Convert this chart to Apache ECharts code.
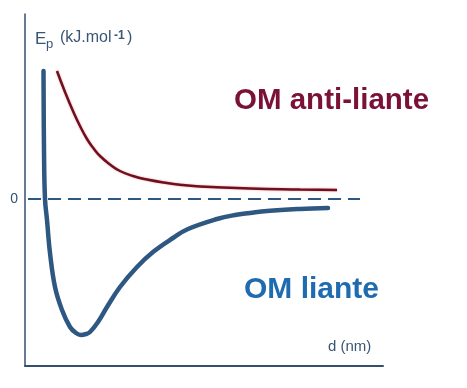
<!DOCTYPE html>
<html>
<head>
<meta charset="utf-8">
<script src="https://cdn.jsdelivr.net/npm/echarts@6/dist/echarts.min.js"></script>
<style>
html,body{margin:0;padding:0;background:#fff;}
#c{width:467px;height:388px;}
</style>
</head>
<body>
<div id="c"></div>
<script>
// d (arbitrary nm units), Ep (arbitrary kJ/mol units)
const liante_d  = [0.185,0.19,0.20,0.22,0.25,0.30,0.37,0.45,0.51,0.56,0.61,0.65,0.73,0.82,0.95,1.12,1.28,1.48,1.63,1.92,2.10,2.25,2.42,2.75,3.03];
const liante_Ep = [128,49,0,-21,-54,-88,-111,-128,-134,-136,-135,-133,-123,-108,-88,-68,-53,-39,-30,-20,-16,-14,-12,-10,-9];
const anti_d  = [0.32,0.40,0.48,0.55,0.62,0.69,0.75,0.85,0.95,1.08,1.22,1.42,1.58,1.75,2.25,2.75,3.12];
const anti_Ep = [128,107,88,73,60,50,43,34.5,28,23,19.5,16,14,12.5,10.5,9.5,9];
const zero_d  = [0.03, 3.35];
const zero_Ep = [0, 0];
const yTickLabels = [0];

const zip = (a,b) => a.map((v,i)=>[v,b[i]]);
const axisCol = '#34506e';
const txtCol = '#3a5674';
const chart = echarts.init(document.getElementById('c'), null, {renderer:'canvas'});
chart.setOption({
  animation:false,
  backgroundColor:'#ffffff',
  grid:{left:25,right:84,top:14,bottom:22,containLabel:false},
  xAxis:{type:'value',min:0,max:3.58,
    axisLine:{show:true,onZero:false,lineStyle:{color:axisCol,width:2}},
    axisTick:{show:false},axisLabel:{show:false},splitLine:{show:false}},
  yAxis:{type:'value',min:-167,max:185,
    axisLine:{show:true,onZero:false,lineStyle:{color:axisCol,width:1.5}},
    axisTick:{show:false},splitLine:{show:false},
    axisLabel:{show:true,customValues:yTickLabels,margin:7,color:axisCol,fontSize:14,fontFamily:'Liberation Sans'}},
  series:[
    {type:'line',data:zip(zero_d,zero_Ep),symbol:'none',
      lineStyle:{color:'#2e5782',width:2,type:[13,7]}},
    {type:'line',data:zip(anti_d,anti_Ep),symbol:'none',smooth:0.5,
      lineStyle:{color:'#6e1020',width:2.5,shadowColor:'rgba(230,60,60,0.5)',shadowBlur:2}},
    {type:'line',data:zip(liante_d,liante_Ep),symbol:'none',smooth:0.4,
      lineStyle:{color:'#2e5782',width:4.5,cap:'round'}}
  ],
  graphic:[
    {type:'text',left:35,top:31,style:{text:'E',fontSize:17,fill:txtCol,fontFamily:'Liberation Sans'}},
    {type:'text',left:46,top:38,style:{text:'p',fontSize:13,fill:txtCol,fontFamily:'Liberation Sans'}},
    {type:'text',left:60,top:30,style:{text:'(kJ.mol',fontSize:16,fill:txtCol,fontFamily:'Liberation Sans'}},
    {type:'text',left:114,top:30,style:{text:'-1',fontSize:12,fill:txtCol,fontFamily:'Liberation Sans',fontWeight:'bold'}},
    {type:'text',left:127,top:30,style:{text:')',fontSize:16,fill:txtCol,fontFamily:'Liberation Sans'}},
    {type:'text',left:328,top:339,style:{text:'d (nm)',fontSize:15,fill:txtCol,fontFamily:'Liberation Sans'}},
    {type:'text',left:234,top:86,style:{text:'OM anti-liante',fontSize:29.5,fontWeight:'bold',fill:'#7a1237',fontFamily:'Liberation Sans'}},
    {type:'text',left:244,top:275,style:{text:'OM liante',fontSize:30,fontWeight:'bold',fill:'#1f6bb0',fontFamily:'Liberation Sans'}}
  ]
});
</script>
</body>
</html>
